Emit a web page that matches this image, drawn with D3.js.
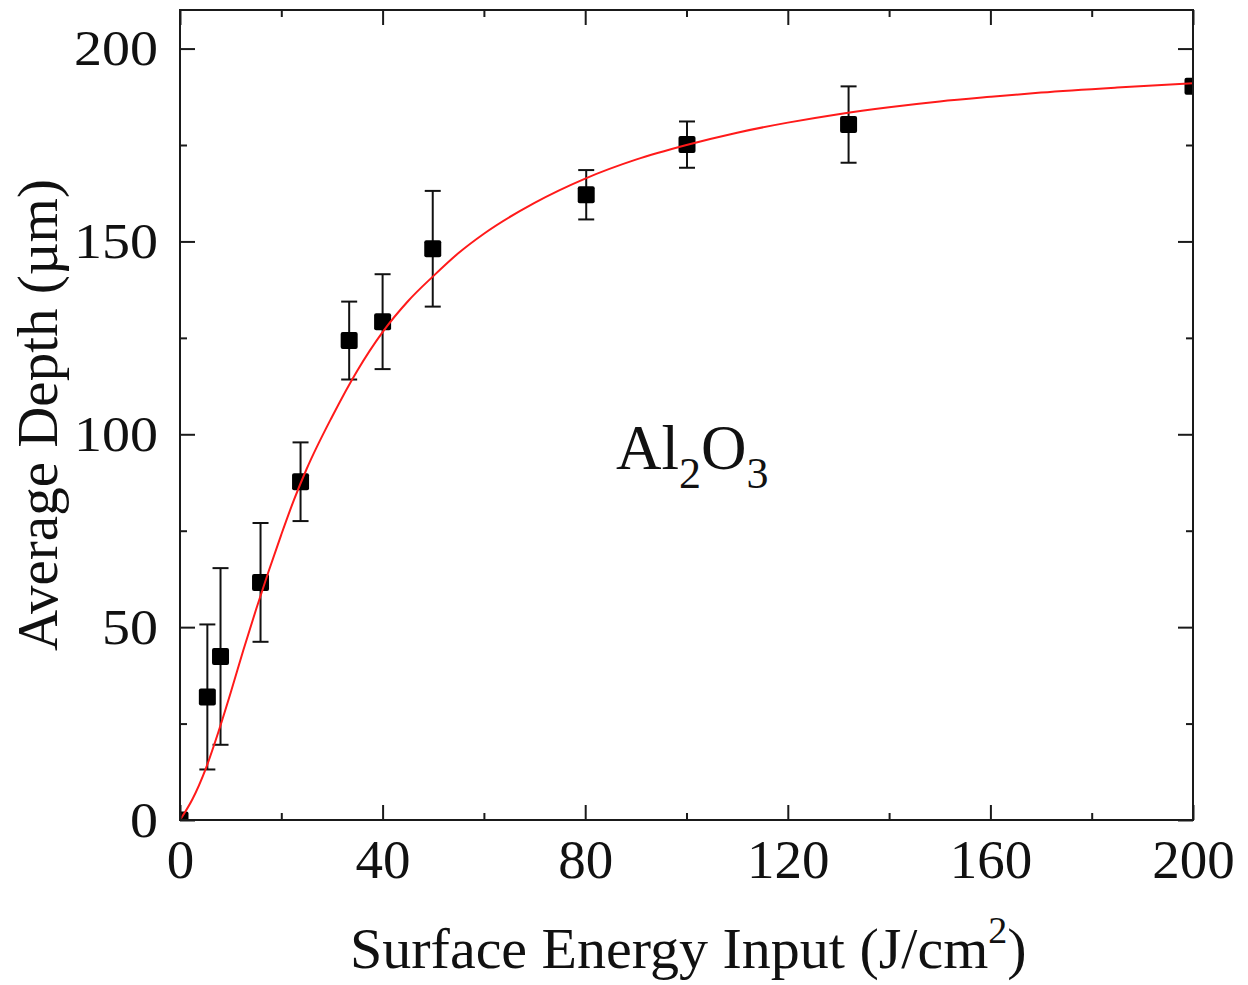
<!DOCTYPE html>
<html lang="en">
<head>
    <meta charset="UTF-8">
    <title>Al2O3 depth</title>
    <style>
        body{
            margin: 0;
            background-color: #fff;
        }
        svg{
            background-color: #fff;
            display: block;
        }
        .axis path, .axis line{
            stroke: #1a1a1a;
            stroke-width: 2px;
        }
        .axis text{
            fill: #111;
            font-family: "Liberation Serif", "Times New Roman", serif;
        }
        .lbl{
            fill: #111;
            font-family: "Liberation Serif", "Times New Roman", serif;
        }
    </style>
</head>
<body>

<div id="chart"></div>

<script src="https://cdn.jsdelivr.net/npm/d3@7/dist/d3.min.js"></script>
<script>
    // measured points (J/cm2, um) with error bars
    var energy = [0, 5.4, 8.0, 15.9, 23.8, 33.4, 40.0, 49.9, 80.2, 100.1, 132, 200];
    var depth  = [0, 31.9, 42.4, 61.6, 87.7, 124.3, 129.2, 148.1, 162.1, 175.1, 180.3, 190.2];
    var errBar = [0, 18.8, 22.9, 15.4, 10.2, 10.1, 12.3, 15.0, 6.4, 6.0, 9.9, 0];

    // red fit curve
    var fitX = [0, 2.5, 5, 7.5, 10, 12.5, 15, 17.5, 20, 22.5, 25, 30, 35, 40, 45, 50, 55, 60, 70, 80, 90, 100, 110, 120, 130, 140, 150, 160, 170, 185, 200];
    var fitY = [0, 5.5, 13, 22.5, 33, 44, 54.5, 64.5, 74, 83, 91, 104.5, 116.5, 126.5, 134.5, 141, 147, 152, 160, 166.3, 171.2, 175, 178.2, 180.8, 183, 184.8, 186.3, 187.5, 188.6, 189.9, 191];

    var xMajor = [0, 40, 80, 120, 160, 200];
    var xMinor = [20, 60, 100, 140, 180];
    var yMajor = [0, 50, 100, 150, 200];
    var yMinor = [25, 75, 125, 175];

    var width = 1248, height = 985;
    var pLeft = 180, pRight = 1193, pTop = 10, pBottom = 820;

    var svg = d3.select('#chart')
        .append('svg')
        .attr('width', width)
        .attr('height', height);

    var xScale = d3.scaleLinear().domain([0, 200]).range([pLeft, pRight]);
    var yScale = d3.scaleLinear().domain([0, 210]).range([pBottom, pTop]);

    svg.append('clipPath')
        .attr('id', 'plotClip')
        .append('rect')
        .attr('x', pLeft)
        .attr('y', pTop)
        .attr('width', pRight - pLeft)
        .attr('height', pBottom - pTop);

    var plot = svg.append('g').attr('clip-path', 'url(#plotClip)');

    var points = energy.map(function(e, i){
        return {x: e, y: depth[i], err: errBar[i]};
    });

    // error bars
    var bars = plot.selectAll('.err')
        .data(points.filter(function(d){ return d.err > 0; }))
        .enter()
        .append('g')
        .attr('class', 'err')
        .attr('stroke', '#111')
        .attr('stroke-width', 2);

    bars.append('line')
        .attr('x1', function(d){ return xScale(d.x); })
        .attr('x2', function(d){ return xScale(d.x); })
        .attr('y1', function(d){ return yScale(d.y - d.err); })
        .attr('y2', function(d){ return yScale(d.y + d.err); });

    bars.selectAll('.cap')
        .data(function(d){ return [d.y - d.err, d.y + d.err].map(function(v){ return {x: d.x, v: v}; }); })
        .enter()
        .append('line')
        .attr('class', 'cap')
        .attr('x1', function(d){ return xScale(d.x) - 8; })
        .attr('x2', function(d){ return xScale(d.x) + 8; })
        .attr('y1', function(d){ return yScale(d.v); })
        .attr('y2', function(d){ return yScale(d.v); });

    // squares
    plot.selectAll('.dot')
        .data(points)
        .enter()
        .append('rect')
        .attr('class', 'dot')
        .attr('x', function(d){ return xScale(d.x) - 8.5; })
        .attr('y', function(d){ return yScale(d.y) - 8.5; })
        .attr('width', 17)
        .attr('height', 17)
        .attr('rx', 2)
        .attr('fill', '#000');

    // fit curve
    var line = d3.line()
        .x(function(d){ return xScale(d[0]); })
        .y(function(d){ return yScale(d[1]); })
        .curve(d3.curveMonotoneX);

    plot.append('path')
        .datum(fitX.map(function(v, i){ return [v, fitY[i]]; }))
        .attr('d', line)
        .attr('fill', 'none')
        .attr('stroke', '#ff1a1a')
        .attr('stroke-width', 2);

    // axes, ticks pointing in
    function styleAxis(g){
        g.attr('class', 'axis');
        g.select('.domain').remove();
    }

    svg.append('g')
        .attr('transform', 'translate(0,' + pBottom + ')')
        .call(d3.axisBottom(xScale).tickValues(xMajor).tickSizeInner(-15).tickSizeOuter(0).tickPadding(19).tickFormat(d3.format('d')))
        .call(styleAxis)
        .selectAll('text').attr('font-size', '55px');

    svg.append('g')
        .attr('transform', 'translate(0,' + pBottom + ')')
        .call(d3.axisBottom(xScale).tickValues(xMinor).tickSizeInner(-7).tickSizeOuter(0).tickFormat(''))
        .call(styleAxis);

    svg.append('g')
        .attr('transform', 'translate(0,' + pTop + ')')
        .call(d3.axisTop(xScale).tickValues(xMajor).tickSizeInner(-15).tickSizeOuter(0).tickFormat(''))
        .call(styleAxis);

    svg.append('g')
        .attr('transform', 'translate(0,' + pTop + ')')
        .call(d3.axisTop(xScale).tickValues(xMinor).tickSizeInner(-7).tickSizeOuter(0).tickFormat(''))
        .call(styleAxis);

    svg.append('g')
        .attr('transform', 'translate(' + pLeft + ',0)')
        .call(d3.axisLeft(yScale).tickValues(yMajor).tickSizeInner(-15).tickSizeOuter(0).tickPadding(22).tickFormat(d3.format('d')))
        .call(styleAxis)
        .selectAll('text')
        .attr('font-size', '50px')
        .attr('textLength', function(d){ return String(d).length * 28; })
        .attr('lengthAdjust', 'spacingAndGlyphs');

    svg.append('g')
        .attr('transform', 'translate(' + pLeft + ',0)')
        .call(d3.axisLeft(yScale).tickValues(yMinor).tickSizeInner(-7).tickSizeOuter(0).tickFormat(''))
        .call(styleAxis);

    svg.append('g')
        .attr('transform', 'translate(' + pRight + ',0)')
        .call(d3.axisRight(yScale).tickValues(yMajor).tickSizeInner(-15).tickSizeOuter(0).tickFormat(''))
        .call(styleAxis);

    svg.append('g')
        .attr('transform', 'translate(' + pRight + ',0)')
        .call(d3.axisRight(yScale).tickValues(yMinor).tickSizeInner(-7).tickSizeOuter(0).tickFormat(''))
        .call(styleAxis);

    // frame
    svg.append('rect')
        .attr('x', pLeft)
        .attr('y', pTop)
        .attr('width', pRight - pLeft)
        .attr('height', pBottom - pTop)
        .attr('fill', 'none')
        .attr('stroke', '#1a1a1a')
        .attr('stroke-width', 2);

    // axis titles
    var xt = svg.append('text')
        .attr('class', 'lbl')
        .attr('x', 350)
        .attr('y', 968)
        .attr('font-size', '58px');
    xt.append('tspan').text('Surface Energy Input (J/cm');
    xt.append('tspan').attr('font-size', '38px').attr('dy', -25).text('2');
    xt.append('tspan').attr('dy', 25).text(')');

    svg.append('text')
        .attr('class', 'lbl')
        .attr('transform', 'translate(57,415) rotate(-90)')
        .attr('text-anchor', 'middle')
        .attr('font-size', '57px')
        .text('Average Depth (\u00b5m)');

    // compound label
    var comp = svg.append('text')
        .attr('class', 'lbl')
        .attr('x', 616)
        .attr('y', 469)
        .attr('font-size', '63px');
    comp.append('tspan').text('Al');
    comp.append('tspan').attr('font-size', '44px').attr('dy', 19).text('2');
    comp.append('tspan').attr('dy', -19).text('O');
    comp.append('tspan').attr('font-size', '44px').attr('dy', 19).text('3');
</script>

</body>
</html>
